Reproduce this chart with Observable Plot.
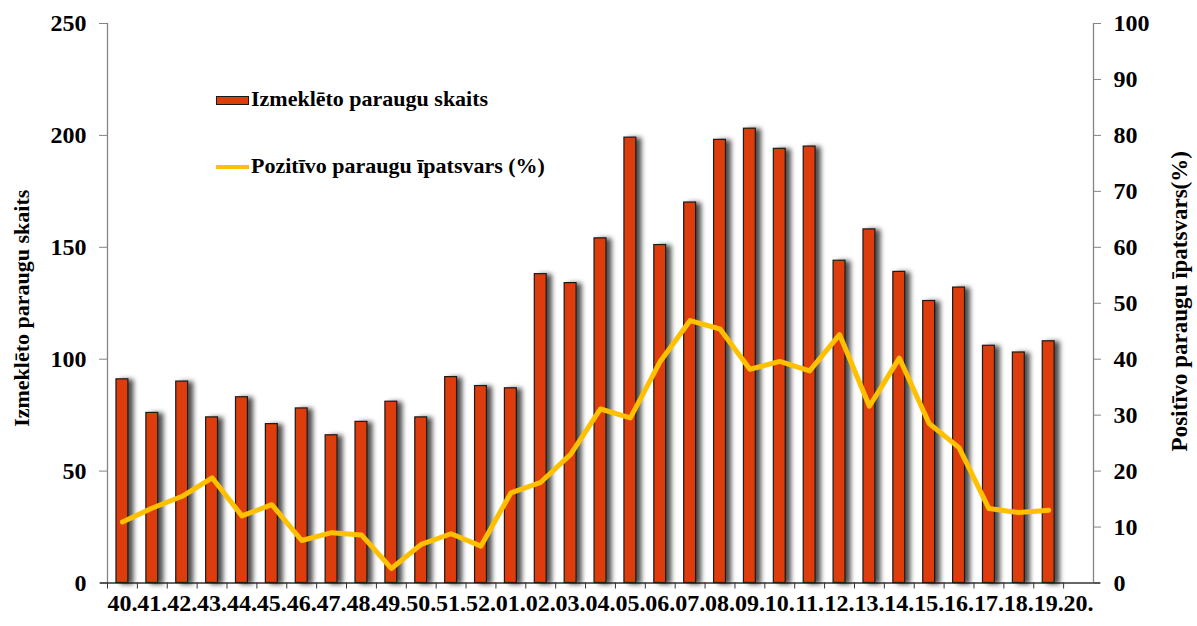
<!DOCTYPE html>
<html>
<head>
<meta charset="utf-8">
<script src="https://cdn.jsdelivr.net/npm/d3@7"></script>
<script src="https://cdn.jsdelivr.net/npm/@observablehq/plot@0.6"></script>
<style>
  html, body { margin: 0; padding: 0; background: #fff; }
  #wrap { position: relative; width: 1197px; height: 626px; }
  .lg { position: absolute; font-family: "Liberation Serif", "Times New Roman", "DejaVu Serif", serif; font-weight: bold; font-size: 22px; line-height: 22px; color: #000; white-space: nowrap; }
</style>
</head>
<body>
<div id="wrap"></div>
<script>
const weeks = ["40","41","42","43","44","45","46","47","48","49","50","51","52",
  "01","02","03","04","05","06","07","08","09","10","11","12","13","14","15","16","17","18","19","20"];
const counts = [91,76,90,74,83,71,78,66,72,81,74,92,88,87,138,134,154,199,151,170,198,203,194,195,144,158,139,126,132,106,103,108];
const percents = [10.9,13.4,15.5,18.8,12.0,14.0,7.6,9.0,8.6,2.6,6.9,8.8,6.6,16.1,18.0,23.0,31.1,29.5,39.6,46.9,45.4,38.2,39.6,37.9,44.4,31.6,40.2,28.5,24.2,13.3,12.6,13.0];
const leftTicks = [0,50,100,150,200,250];
const rightTicks = [0,10,20,30,40,50,60,70,80,90,100];
const leftLabel = "Izmeklēto paraugu skaits";
const rightLabel = "Positīvo paraugu īpatsvars(%)";
const legendBar = "Izmeklēto paraugu skaits";
const legendLine = "Pozitīvo paraugu īpatsvars (%)";

const data = counts.map((c, i) => ({week: weeks[i], count: c, pct: percents[i]}));
const ratio = 250 / 100;

const FONT = "'Liberation Serif', 'Times New Roman', 'DejaVu Serif', serif";
const W = 1197, H = 626, mL = 107, mR = 104, mT = 23, mB = 43.5;
const bw = (W - mL - mR) / weeks.length;

const plot = Plot.plot({
  width: W, height: H,
  marginLeft: mL, marginRight: mR, marginTop: mT, marginBottom: mB,
  style: {fontFamily: FONT, fontSize: "24px", fontWeight: "bold", background: "#fff", color: "#000"},
  x: {type: "band", domain: weeks, padding: 0, round: false},
  y: {domain: [0, 250]},
  marks: [
    Plot.ruleX([weeks[0]], {dx: -bw / 2, y1: 0, y2: 250, stroke: "#858585", strokeWidth: 1.3}),
    Plot.ruleX([weeks[weeks.length - 1]], {dx: bw / 2, y1: 0, y2: 250, stroke: "#858585", strokeWidth: 1.3}),
    Plot.axisY(leftTicks, {anchor: "left", tickSize: 8, tickPadding: 13, stroke: "#858585", label: null, fontSize: 24, fontWeight: "bold", fontFamily: FONT}),
    Plot.axisY(rightTicks.map(v => v * ratio), {anchor: "right", tickSize: 7, tickPadding: 13, stroke: "#858585", tickFormat: d => d / ratio, label: null, fontSize: 24, fontWeight: "bold", fontFamily: FONT}),
    Plot.axisX({tickSize: 0, tickPadding: 11, tickFormat: d => d + ".", label: null, fontSize: 24, fontWeight: "bold", fontFamily: FONT}),
    Plot.axisX({tickSize: 6, dx: -bw / 2, tickFormat: () => "", label: null, stroke: "#333"}),
    Plot.ruleY([0], {stroke: "#333", strokeWidth: 1.5, insetLeft: -7, insetRight: -7}),
    Plot.barY(data, {x: "week", y: "count", fill: "#DD3D0B", stroke: "#1a1a1a", strokeWidth: 1.2, insetLeft: 9, insetRight: 9}),
    Plot.line(data, {x: "week", y: d => d.pct * ratio, stroke: "#FFC000", strokeWidth: 5, strokeLinejoin: "round"}),
    Plot.text([leftLabel], {frameAnchor: "left", textAnchor: "middle", rotate: -90, dx: -86, dy: 5, fontSize: 22, fontWeight: "bold", fontFamily: FONT}),
    Plot.text([rightLabel], {frameAnchor: "right", textAnchor: "middle", rotate: -90, dx: 86, dy: -2, fontSize: 23, fontWeight: "bold", fontFamily: FONT})
  ]
});

const svg = d3.select(plot);
const defs = svg.insert("defs", ":first-child");
const f = defs.append("filter").attr("id", "barShadow").attr("x", "-5%").attr("y", "-5%").attr("width", "115%").attr("height", "110%");
f.append("feDropShadow").attr("dx", 5).attr("dy", 1).attr("stdDeviation", 2.8).attr("flood-color", "#000").attr("flood-opacity", 0.7);
svg.selectAll('g[aria-label="bar"]').attr("filter", "url(#barShadow)");

const wrap = document.getElementById("wrap");
wrap.appendChild(plot);

function addDiv(css, text) {
  const d = document.createElement("div");
  d.style.cssText = "position:absolute;" + css;
  if (text) { d.className = "lg"; d.textContent = text; }
  wrap.appendChild(d);
}
addDiv("left:216px;top:96px;width:31px;height:7px;background:#DD3D0B;border:1px solid #1a1a1a;");
addDiv("left:251px;top:88px;", legendBar);
addDiv("left:216px;top:165px;width:33px;height:4px;background:#FFC000;");
addDiv("left:251px;top:155px;", legendLine);
</script>
</body>
</html>
